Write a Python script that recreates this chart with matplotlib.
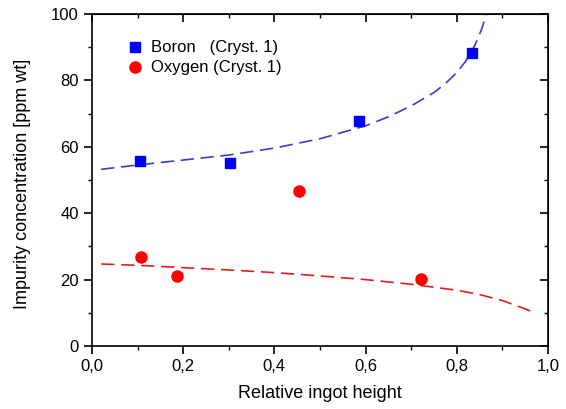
import matplotlib
matplotlib.use("Agg")
import matplotlib.pyplot as plt
from matplotlib.ticker import MultipleLocator, FuncFormatter

# measured points
boron_x = [0.105, 0.303, 0.586, 0.833]
boron_y = [55.7, 55.1, 67.9, 88.2]
oxygen_x = [0.107, 0.186, 0.454, 0.721]
oxygen_y = [26.7, 21.0, 46.7, 20.2]

# fitted curves
boron_fit_x = [0.02, 0.1, 0.2, 0.3, 0.4, 0.5, 0.6, 0.65, 0.7, 0.75, 0.775, 0.8, 0.82, 0.84, 0.855, 0.865]
boron_fit_y = [53.2, 54.5, 56.0, 57.5, 59.6, 62.4, 66.3, 69.0, 72.3, 76.3, 79.0, 82.3, 85.8, 90.6, 95.5, 100.0]
oxygen_fit_x = [0.02, 0.1, 0.2, 0.3, 0.4, 0.5, 0.6, 0.7, 0.8, 0.85, 0.9, 0.95, 0.97]
oxygen_fit_y = [24.7, 24.3, 23.6, 22.9, 22.1, 21.1, 20.0, 18.6, 16.8, 15.5, 13.7, 11.2, 10.0]

plt.rcParams["font.family"] = ["Liberation Sans", "DejaVu Sans"]

fig = plt.figure(figsize=(5.66, 4.09), dpi=100)
ax = fig.add_axes([0.1625, 0.154, 0.8055, 0.812])

ax.plot(boron_fit_x, boron_fit_y, linestyle=(0, (8, 4)), color="#3b3bd0", linewidth=1.2)
ax.plot(oxygen_fit_x, oxygen_fit_y, linestyle=(0, (8, 4)), color="#e02020", linewidth=1.2)

ax.plot(boron_x, boron_y, "s", color="#0000ff", markersize=7, label="Boron   (Cryst. 1)")
ax.plot(oxygen_x, oxygen_y, "o", color="#ff0000", markersize=8, label="Oxygen (Cryst. 1)")

ax.set_xlim(0, 1.0)
ax.set_ylim(0, 100)
ax.xaxis.set_major_locator(MultipleLocator(0.2))
ax.xaxis.set_minor_locator(MultipleLocator(0.1))
ax.yaxis.set_major_locator(MultipleLocator(20))
ax.yaxis.set_minor_locator(MultipleLocator(10))
ax.xaxis.set_major_formatter(FuncFormatter(lambda v, p: f"{v:.1f}".replace(".", ",")))

ax.tick_params(which="both", direction="out", top=False, right=False, labelsize=12)
ax.tick_params(which="major", length=6, width=1.2)
ax.tick_params(which="minor", length=3, width=1.0)
for s in ax.spines.values():
    s.set_linewidth(1.2)

# inward ticks on top and right
axt = ax.secondary_xaxis("top")
axt.xaxis.set_major_locator(MultipleLocator(0.2))
axt.xaxis.set_minor_locator(MultipleLocator(0.1))
axt.tick_params(which="both", direction="in", labeltop=False)
axt.tick_params(which="major", length=6, width=1.2)
axt.tick_params(which="minor", length=3, width=1.0)
axr = ax.secondary_yaxis("right")
axr.yaxis.set_major_locator(MultipleLocator(20))
axr.yaxis.set_minor_locator(MultipleLocator(10))
axr.tick_params(which="both", direction="in", labelright=False)
axr.tick_params(which="major", length=6, width=1.2)
axr.tick_params(which="minor", length=3, width=1.0)

ax.set_xlabel("Relative ingot height", fontsize=13, labelpad=8)
ax.set_ylabel("Impurity concentration [ppm wt]", fontsize=13)
ax.yaxis.set_label_coords(-0.134, 0.488)

ax.legend(loc="upper left", bbox_to_anchor=(0.057, 0.94), frameon=False, fontsize=12,
          handletextpad=0.4, borderaxespad=0, labelspacing=0.3, handlelength=1.2)

fig.savefig("out.png", dpi=100)
